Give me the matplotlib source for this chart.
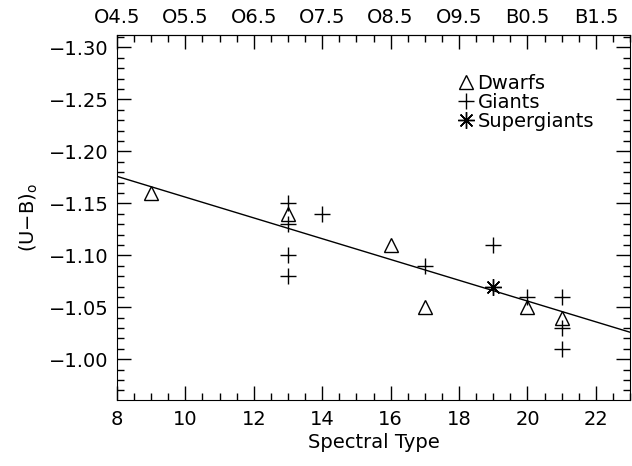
import numpy as np
import matplotlib
matplotlib.use('Agg')
import matplotlib.pyplot as plt
from matplotlib.ticker import MultipleLocator, FixedLocator

# data
dwarf_x = [9, 13, 16, 17, 20, 21]
dwarf_y = [-1.16, -1.14, -1.11, -1.05, -1.05, -1.04]
giant_x = [13, 13, 13, 13, 14, 17, 19, 20, 21, 21, 21]
giant_y = [-1.15, -1.13, -1.10, -1.08, -1.14, -1.09, -1.11, -1.06, -1.06, -1.03, -1.01]
super_x = [19]
super_y = [-1.07]

# linear fit (U-B)o = intercept + slope * type
fit_slope = 0.010
fit_intercept = -1.256

top_ticks = [8, 10, 12, 14, 16, 18, 20, 22]
top_labels = ['O4.5', 'O5.5', 'O6.5', 'O7.5', 'O8.5', 'O9.5', 'B0.5', 'B1.5']

plt.rcParams['font.family'] = 'DejaVu Sans'
plt.rcParams['font.size'] = 14

fig = plt.figure(figsize=(6.32, 4.66), dpi=100)
ax = fig.add_axes([0.185, 0.142, 0.812, 0.783])

xfit = np.array([8, 23])
ax.plot(xfit, fit_intercept + fit_slope * xfit, color='black', lw=1)

ax.plot(dwarf_x, dwarf_y, linestyle='none', marker='^', markersize=10,
        markerfacecolor='white', markeredgecolor='black', markeredgewidth=1,
        label='Dwarfs')
ax.plot(giant_x, giant_y, linestyle='none', marker='+', markersize=12,
        color='black', markeredgewidth=1, label='Giants')
ax.plot(super_x, super_y, linestyle='none', marker=(8, 2, 0), markersize=12,
        color='black', markeredgewidth=1, label='Supergiants')

ax.set_xlim(8, 23)
ax.set_ylim(-0.961, -1.312)
ax.xaxis.set_major_locator(MultipleLocator(2))
ax.xaxis.set_minor_locator(MultipleLocator(0.5))
ax.yaxis.set_major_locator(MultipleLocator(0.05))
ax.yaxis.set_minor_locator(MultipleLocator(0.01))
ax.yaxis.set_major_formatter(plt.FuncFormatter(lambda v, p: '\u2212%.2f' % abs(v)))
ax.tick_params(which='major', direction='in', length=10, width=1, top=False, right=True)
ax.tick_params(which='minor', direction='in', length=5, width=1, top=False, right=True)
ax.tick_params(axis='x', pad=7)
ax.tick_params(axis='y', pad=6)

sec = ax.secondary_xaxis('top')
sec.xaxis.set_major_locator(FixedLocator(top_ticks))
sec.set_xticklabels(top_labels)
sec.xaxis.set_minor_locator(MultipleLocator(0.5))
sec.tick_params(which='major', direction='in', length=10, width=1, pad=6)
sec.tick_params(which='minor', direction='in', length=5, width=1)

ax.set_xlabel('Spectral Type', labelpad=3)
ax.set_ylabel('(U\u2212B)$_\\mathrm{o}$', labelpad=6)

ax.legend(loc='upper right', bbox_to_anchor=(0.945, 0.915), frameon=False,
          handlelength=0.6, handletextpad=0.3, labelspacing=0.0,
          borderaxespad=0, fontsize=14)

fig.savefig('out.png', dpi=100)
